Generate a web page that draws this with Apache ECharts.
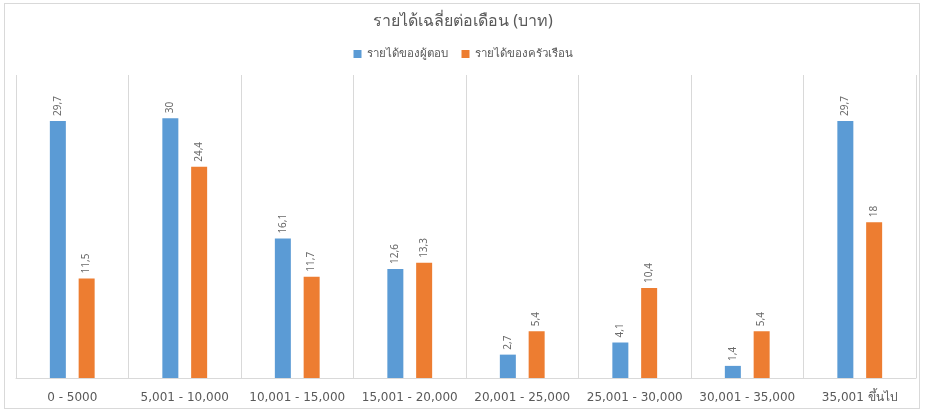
<!DOCTYPE html>
<html>
<head>
<meta charset="utf-8">
<script src="https://cdn.jsdelivr.net/npm/echarts@6/dist/echarts.min.js"></script>
<style>
  html, body { margin: 0; padding: 0; background: #fff; }
  #frame { position: absolute; left: 4px; top: 3px; width: 916px; height: 406px; border: 1px solid #d9d9d9; box-sizing: border-box; }
  #chart { width: 926px; height: 414px; position: absolute; left: 0; top: 0; }
</style>
</head>
<body>
<div id="frame"></div>
<div id="chart"></div>
<script>
const titleText = 'รายได้เฉลี่ยต่อเดือน (บาท)';
const categories = ['0 - 5000', '5,001 - 10,000', '10,001 - 15,000', '15,001 - 20,000',
  '20,001 - 25,000', '25,001 - 30,000', '30,001 - 35,000', '35,001 ขึ้นไป'];
const seriesNames = ['รายได้ของผู้ตอบ', 'รายได้ของครัวเรือน'];
const respondentIncome = [29.7, 30, 16.1, 12.6, 2.7, 4.1, 1.4, 29.7];
const householdIncome = [11.5, 24.4, 11.7, 13.3, 5.4, 10.4, 5.4, 18];
const colors = ['#5B9BD5', '#ED7D31'];

const fontFamily = '"Noto Sans", Tahoma, sans-serif';
const axisFont = '"DejaVu Sans", Verdana, sans-serif';
const textColor = '#595959';

const valueLabel = {
  show: true,
  position: 'top',
  rotate: 90,
  align: 'left',
  verticalAlign: 'middle',
  distance: 5,
  fontSize: 10,
  color: '#6a6a6a',
  fontFamily: fontFamily,
  formatter: p => String(p.value).replace('.', ',')
};

const chart = echarts.init(document.getElementById('chart'), null, { renderer: 'canvas' });
chart.setOption({
  backgroundColor: 'transparent',
  animation: false,
  color: colors,
  title: {
    text: titleText,
    left: 'center',
    top: 8,
    textStyle: { fontSize: 16, fontWeight: 'normal', color: textColor, fontFamily: fontFamily }
  },
  legend: {
    top: 43,
    left: 'center',
    padding: [5, 5, 5, 17],
    itemWidth: 8,
    itemHeight: 8,
    itemGap: 14,
    icon: 'rect',
    textStyle: { fontSize: 11.5, color: textColor, fontFamily: fontFamily },
    data: seriesNames
  },
  grid: { left: 16, right: 10, top: 75, bottom: 36, containLabel: false },
  xAxis: {
    type: 'category',
    data: categories,
    axisLine: { show: true, lineStyle: { color: '#d9d9d9' } },
    axisTick: { show: false },
    splitLine: { show: true, lineStyle: { color: '#d9d9d9' } },
    axisLabel: { fontSize: 12, color: textColor, fontFamily: axisFont, margin: 14, interval: 0 }
  },
  yAxis: {
    type: 'value',
    min: 0,
    max: 35,
    show: false,
    splitLine: { show: false }
  },
  series: [
    { name: seriesNames[0], type: 'bar', data: respondentIncome, barWidth: 16, barGap: '80%', label: valueLabel },
    { name: seriesNames[1], type: 'bar', data: householdIncome, barWidth: 16, label: valueLabel }
  ]
});
</script>
</body>
</html>
